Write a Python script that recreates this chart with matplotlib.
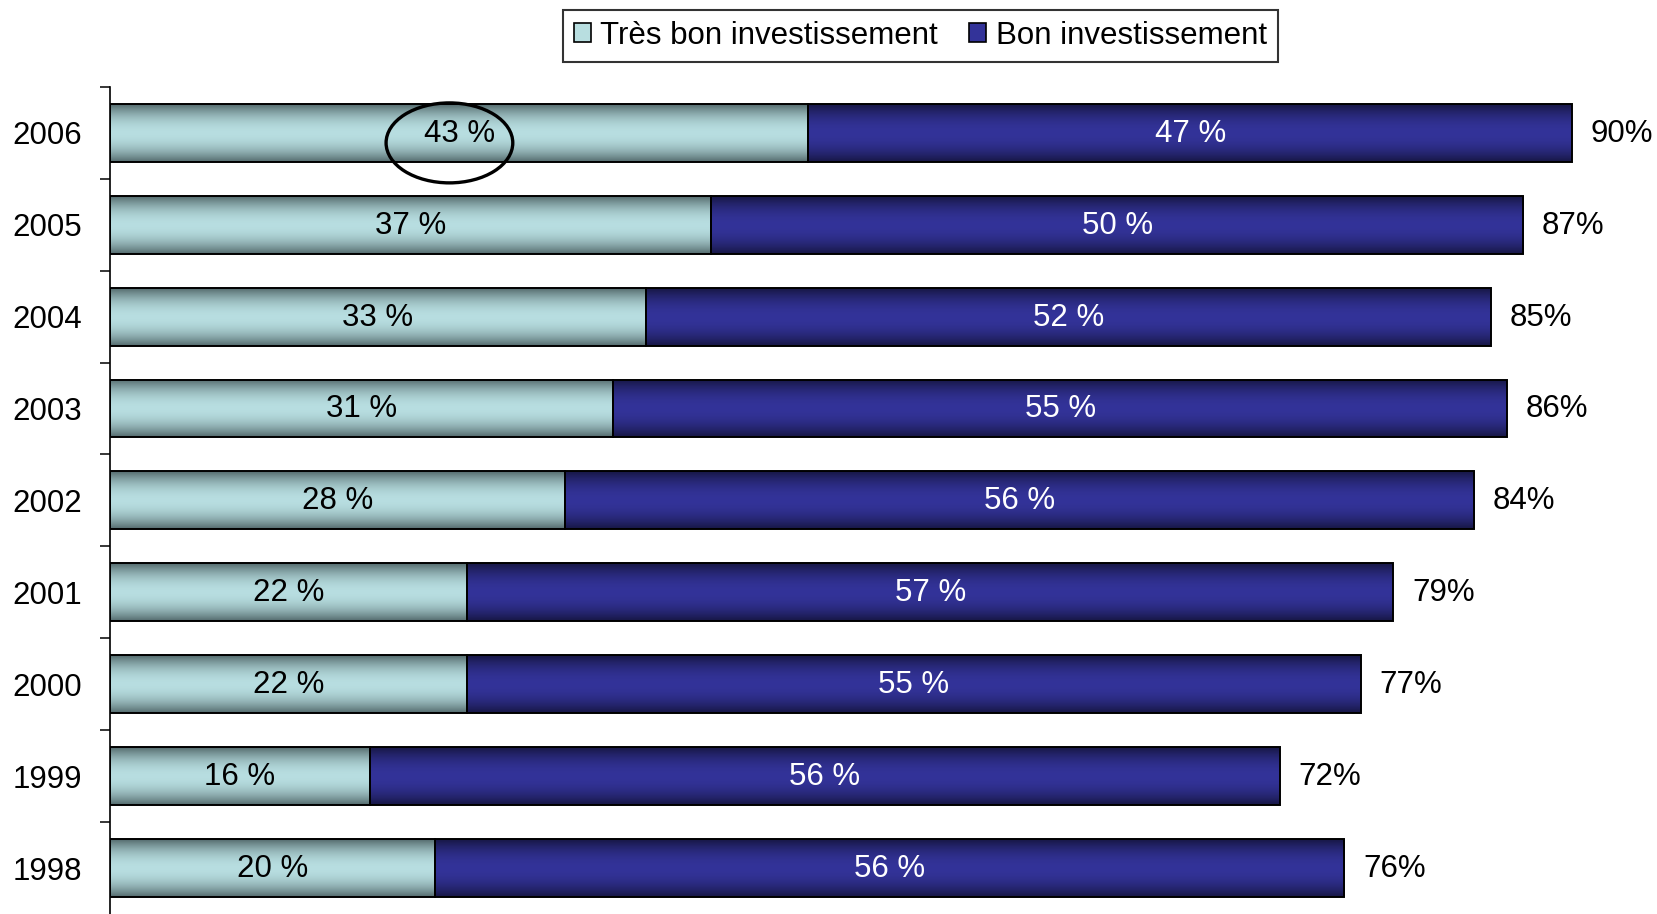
import numpy as np
import matplotlib
matplotlib.use("Agg")
import matplotlib.pyplot as plt
from matplotlib.patches import Ellipse, Patch

plt.rcParams['font.family'] = ['Liberation Sans', 'DejaVu Sans']

years = ["1998", "1999", "2000", "2001", "2002", "2003", "2004", "2005", "2006"]
tres_bon = [20, 16, 22, 22, 28, 31, 33, 37, 43]
bon = [56, 56, 55, 57, 56, 55, 52, 50, 47]
totals = [76, 72, 77, 79, 84, 86, 85, 87, 90]
series_names = ["Très bon investissement", "Bon investissement"]

light = np.array([0.72, 0.87, 0.88])
light_edge = np.array([0.33, 0.42, 0.43])
dark = np.array([0.20, 0.20, 0.60])
dark_edge = np.array([0.09, 0.09, 0.27])

FS = 22.5

fig = plt.figure(figsize=(16.58, 9.14), dpi=100)
ax = fig.add_axes([0.0663, 0.0, 0.9337, 0.905])

y = np.arange(len(years))
h = 0.63
bars1 = ax.barh(y, tres_bon, height=h, facecolor='none', edgecolor='black', linewidth=1.4, zorder=3)
bars2 = ax.barh(y, bon, left=tres_bon, height=h, facecolor='none', edgecolor='black', linewidth=1.4, zorder=3)


def gradient_img(center, edge):
    t = np.linspace(-1, 1, 64)
    f = np.abs(t) ** 2.0
    col = center[None, :] * (1 - f[:, None]) + edge[None, :] * f[:, None]
    return col[:, None, :]


img_l = gradient_img(light, light_edge)
img_d = gradient_img(dark, dark_edge)
for bars, img in ((bars1, img_l), (bars2, img_d)):
    for b in bars:
        x0, y0 = b.get_x(), b.get_y()
        w, hh = b.get_width(), b.get_height()
        im = ax.imshow(img, extent=[x0, x0 + w, y0, y0 + hh], aspect='auto',
                       interpolation='bilinear', zorder=2, origin='lower')
        im.set_clip_path(b)

for i in range(len(years)):
    ax.text(tres_bon[i] / 2, y[i] - 0.01, f"{tres_bon[i]} %", ha='center', va='center',
            fontsize=FS, color='black', zorder=4)
    ax.text(tres_bon[i] + bon[i] / 2, y[i] - 0.01, f"{bon[i]} %", ha='center', va='center',
            fontsize=FS, color='white', zorder=4)
    ax.text(tres_bon[i] + bon[i] + 1.15, y[i] - 0.01, f"{totals[i]}%", ha='left', va='center',
            fontsize=FS, color='black', zorder=4, clip_on=False)

# highlight ellipse around 2006 "Très bon" value
ax.add_patch(Ellipse((20.9, len(years) - 1 - 0.11), 7.8, 0.87, fill=False,
                     edgecolor='black', linewidth=2.4, zorder=5, clip_on=False))

ax.set_xlim(0, 95.3)
ax.set_ylim(-0.5, len(years) - 0.5)
ax.set_yticks(y)
ax.set_yticklabels(years, fontsize=FS)
ax.set_yticks(np.arange(len(years)) + 0.5, minor=True)
ax.tick_params(axis='y', which='major', length=0, pad=20)
ax.tick_params(axis='y', which='minor', length=7.5, width=1.1)
ax.set_xticks([])
for s in ['top', 'right', 'bottom']:
    ax.spines[s].set_visible(False)
ax.spines['left'].set_linewidth(1.2)

handles = [Patch(facecolor=light, edgecolor='black', linewidth=1.2),
           Patch(facecolor=dark, edgecolor='black', linewidth=1.2)]
leg = fig.legend(handles, series_names, loc='center', bbox_to_anchor=(0.555, 0.961), ncol=2,
                 fontsize=FS, frameon=True, fancybox=False, edgecolor='black',
                 handlelength=0.55, handleheight=0.55, handletextpad=0.3, columnspacing=1.0,
                 borderpad=0.35, borderaxespad=0)
leg.get_frame().set_linewidth(1.5)

fig.savefig("out.png", dpi=100)
